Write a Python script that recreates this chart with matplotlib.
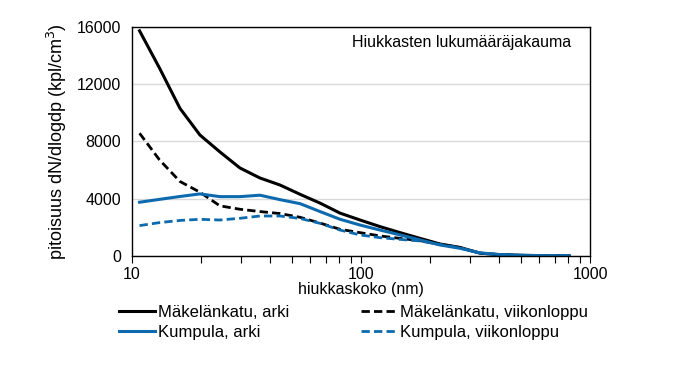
import numpy as np
import matplotlib
matplotlib.use("Agg")
import matplotlib.pyplot as plt
from matplotlib.ticker import LogLocator, NullFormatter, FixedLocator

plt.rcParams['font.family'] = ['Liberation Sans', 'DejaVu Sans']

# particle diameter (nm)
dp = [10.8, 13.2, 16.2, 19.8, 24.2, 29.6, 36.2, 44.3, 54.2, 66.2, 81, 99,
      121, 148, 181, 221, 270, 330, 404, 494, 604, 738, 810]

# dN/dlogdp (kpl/cm3)
makelankatu_arki = [15700, 13100, 10300, 8440, 7260, 6140, 5440, 4950, 4300, 3690,
                    2990, 2510, 2050, 1630, 1230, 840, 600, 200, 90, 50, 30, 20, 10]
makelankatu_vkl = [8560, 6700, 5200, 4450, 3500, 3260, 3100, 2960, 2700, 2300,
                   1860, 1630, 1400, 1230, 1070, 820, 580, 200, 90, 50, 30, 20, 10]
kumpula_arki = [3750, 3950, 4150, 4330, 4140, 4140, 4240, 3930, 3650, 3100,
                2560, 2160, 1810, 1470, 1120, 770, 540, 220, 100, 50, 30, 20, 10]
kumpula_vkl = [2120, 2330, 2480, 2560, 2510, 2630, 2790, 2790, 2620, 2280,
               1810, 1470, 1280, 1160, 1050, 800, 560, 210, 90, 50, 30, 20, 10]

blue = '#0e6aae'
dash = (0, (3, 1.5))

fig = plt.figure(figsize=(6.73, 3.66), dpi=100)
ax = fig.add_axes([0.196, 0.3005, 0.681, 0.627])

l1, = ax.plot(dp, makelankatu_arki, color='black', lw=2.2, label='Mäkelänkatu, arki')
l2, = ax.plot(dp, makelankatu_vkl, color='black', lw=2.0, ls=dash,
              label='Mäkelänkatu, viikonloppu')
l3, = ax.plot(dp, kumpula_arki, color=blue, lw=2.2, label='Kumpula, arki')
l4, = ax.plot(dp, kumpula_vkl, color=blue, lw=2.0, ls=dash,
              label='Kumpula, viikonloppu')

ax.set_xscale('log')
ax.set_xlim(10, 1000)
ax.set_ylim(0, 16000)
ax.yaxis.set_major_locator(FixedLocator([0, 4000, 8000, 12000, 16000]))
ax.set_xticks([10, 100, 1000])
ax.set_xticklabels(['10', '100', '1000'])
ax.xaxis.set_minor_locator(LogLocator(base=10, subs=np.arange(2, 10)))
ax.xaxis.set_minor_formatter(NullFormatter())
ax.tick_params(axis='x', which='both', direction='out', length=5, width=0.8,
               labelsize=11.5, pad=3)
ax.tick_params(axis='y', which='both', length=0, labelsize=11.5, pad=8)
ax.grid(axis='y', color='#d9d9d9', lw=1)
ax.set_axisbelow(True)
for s in ax.spines.values():
    s.set_linewidth(1)

ax.set_xlabel('hiukkaskoko (nm)', fontsize=11.5, labelpad=0)
ax.set_ylabel('pitoisuus dN/dlogdp (kpl/cm$^3$)', fontsize=13, labelpad=5)
ax.text(0.72, 0.93, 'Hiukkasten lukumääräjakauma', transform=ax.transAxes,
        ha='center', va='center', fontsize=11.5)

# column-wise fill: Mäkelänkatu on top row, Kumpula below
fig.legend(handles=[l1, l3, l2, l4], ncol=2, loc='upper left',
           bbox_to_anchor=(0.177, 0.168), frameon=False, fontsize=12,
           handlelength=2.15, handletextpad=0.2, columnspacing=4.3,
           labelspacing=0.32, borderpad=0, borderaxespad=0)

fig.savefig('out.png', dpi=100)
